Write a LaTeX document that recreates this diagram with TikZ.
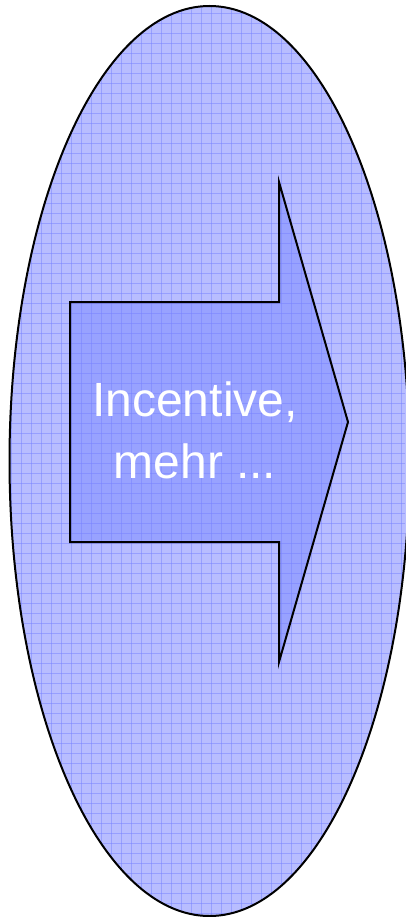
\documentclass[tikz,border=0pt]{standalone}
\usepackage{fontspec}
\setmainfont{Liberation Sans}
\definecolor{ellfill}{RGB}{184,189,255}
\definecolor{arrfill}{RGB}{152,162,255}
\definecolor{gridc}{RGB}{120,130,255}
\tikzset{
  outline/.style={draw=black, line width=2pt, line join=miter},
  gridlines/.style={draw=gridc, line width=0.9pt, opacity=0.5},
  label/.style={text=white, font=\fontsize{48}{62}\selectfont, align=center, inner sep=0pt}
}
\begin{document}
\begin{tikzpicture}[x=1pt,y=-1pt]
\useasboundingbox (0,0) rectangle (405,917);
\fill[white] (0,0) rectangle (405,917);
% ellipse fill
\fill[ellfill] (209.5,461) ellipse [x radius=200, y radius=455];
% arrow fill
\fill[arrfill] (70,302) -- (279,302) -- (279,182) -- (348,422) -- (279,662) -- (279,542) -- (70,542) -- cycle;
% grid clipped to ellipse
\begin{scope}
  \clip (209.5,461) ellipse [x radius=200, y radius=455];
  \foreach \gx in {1.7,11.7,...,411.7} \draw[gridlines] (\gx,0) -- (\gx,917);
  \foreach \gy in {3,13,...,923} \draw[gridlines] (0,\gy) -- (405,\gy);
\end{scope}
% outlines
\draw[outline] (209.5,461) ellipse [x radius=200, y radius=455];
\draw[outline] (70,302) -- (279,302) -- (279,182) -- (348,422) -- (279,662) -- (279,542) -- (70,542) -- cycle;
\node[label] (txt) at (195,430) {Incentive,\\mehr ...};
\end{tikzpicture}
\end{document}
